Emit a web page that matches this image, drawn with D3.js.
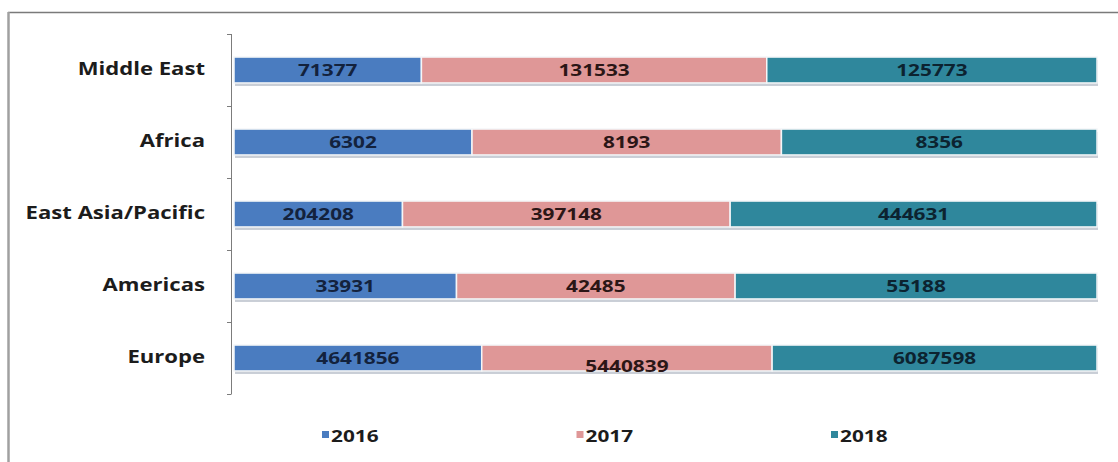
<!DOCTYPE html>
<html>
<head>
<meta charset="utf-8">
<script src="https://cdn.jsdelivr.net/npm/d3@7"></script>
<style>
  html, body { margin: 0; padding: 0; background: #fff; }
  svg { display: block; }
  text { font-family: "Open Sans", "DejaVu Sans", sans-serif; font-weight: 700; }
</style>
</head>
<body>
<svg id="chart" width="1118" height="462"></svg>
<script>
// Visitor arrivals by region, 2016–2018 (shown as 100% stacked bars)
const regions = ["Middle East", "Africa", "East Asia/Pacific", "Americas", "Europe"];
const years = ["2016", "2017", "2018"];
const v2016 = [71377, 6302, 204208, 33931, 4641856];
const v2017 = [131533, 8193, 397148, 42485, 5440839];
const v2018 = [125773, 8356, 444631, 55188, 6087598];

const seriesValues = [v2016, v2017, v2018];
const fills = ["#4a7cc0", "#df9797", "#2f879c"];
const labelInk = ["#13223d", "#2b1616", "#0c2330"];
const stretch = 1.3; // horizontal stretch applied to all lettering

const svg = d3.select("#chart");

// outer frame (top and left edges)
svg.append("line").attr("x1", 8).attr("x2", 1118).attr("y1", 12.5).attr("y2", 12.5)
  .attr("stroke", "#7a7a7a").attr("stroke-width", 1.5);
svg.append("line").attr("x1", 8.5).attr("x2", 8.5).attr("y1", 12).attr("y2", 462)
  .attr("stroke", "#a0a0a0").attr("stroke-width", 2.5);

const rows = regions.map((r, i) => {
  const o = { region: r };
  years.forEach((y, k) => { o[y] = seriesValues[k][i]; });
  return o;
});

const stack = d3.stack().keys(years).offset(d3.stackOffsetExpand);
const layers = stack(rows);

const x = d3.scaleLinear().domain([0, 1]).range([234, 1097]);
const y = d3.scaleBand().domain(regions).range([34, 394])
  .paddingInner(0.64).paddingOuter(0.32);

// category axis: labels from the band scale, ticks between categories
const axisX = 231;
const yAxis = svg.append("g").attr("transform", `translate(${axisX},0)`)
  .call(d3.axisLeft(y).tickSize(0).tickPadding(20));
yAxis.select(".domain").remove();
yAxis.selectAll("text")
  .attr("font-size", 17).attr("fill", "#1c1c1c")
  .attr("font-family", null)
  .attr("transform", `scale(${stretch},1)`);

const bounds = d3.range(regions.length + 1).map(i => y.range()[0] + i * y.step());
svg.append("line").attr("x1", axisX + 0.5).attr("x2", axisX + 0.5)
  .attr("y1", bounds[0]).attr("y2", bounds[bounds.length - 1])
  .attr("stroke", "#7c7c7c");
svg.append("g").selectAll("line").data(bounds).join("line")
  .attr("x1", axisX - 4).attr("x2", axisX + 0.5)
  .attr("y1", d => d + 0.5).attr("y2", d => d + 0.5)
  .attr("stroke", "#7c7c7c");

// soft shadow under each bar
svg.append("g").selectAll("rect").data(rows).join("rect")
  .attr("x", x(0) + 1).attr("width", x(1) - x(0))
  .attr("y", d => y(d.region) + 3).attr("height", y.bandwidth())
  .attr("fill", "#c9ced6");

// stacked segments
const segs = svg.append("g").selectAll("g").data(layers).join("g")
  .attr("fill", (d, k) => fills[k]);
segs.selectAll("rect").data(d => d).join("rect")
  .attr("x", d => x(d[0]))
  .attr("width", d => x(d[1]) - x(d[0]))
  .attr("y", d => y(d.data.region))
  .attr("height", y.bandwidth())
  .attr("stroke", "#f4f6f8").attr("stroke-width", 1.5);

// value labels, centred in each segment
const labels = svg.append("g");
layers.forEach((layer, k) => {
  labels.append("g").selectAll("text").data(layer).join("text")
    .attr("transform", d => {
      const cx = (x(d[0]) + x(d[1])) / 2;
      const lift = (d.data.region === "Europe" && k === 1) ? 8 : 0;
      const cy = y(d.data.region) + y.bandwidth() / 2 + lift;
      return `translate(${cx},${cy}) scale(${stretch},1)`;
    })
    .attr("text-anchor", "middle").attr("dy", "0.36em")
    .attr("font-size", 16).attr("fill", labelInk[k])
    .text(d => d.data[layer.key]);
});

// legend
const lx = d3.scalePoint().domain(years).range([322, 831]);
const legend = svg.append("g").selectAll("g").data(years).join("g")
  .attr("transform", d => `translate(${lx(d)},436)`);
legend.append("rect").attr("x", 0).attr("y", -5).attr("width", 7).attr("height", 7)
  .attr("fill", (d, k) => fills[k]);
legend.append("text").attr("transform", `translate(9,0) scale(${stretch},1)`)
  .attr("dy", "0.35em").attr("font-size", 16).attr("fill", "#1c1c1c")
  .text(d => d);
</script>
</body>
</html>
